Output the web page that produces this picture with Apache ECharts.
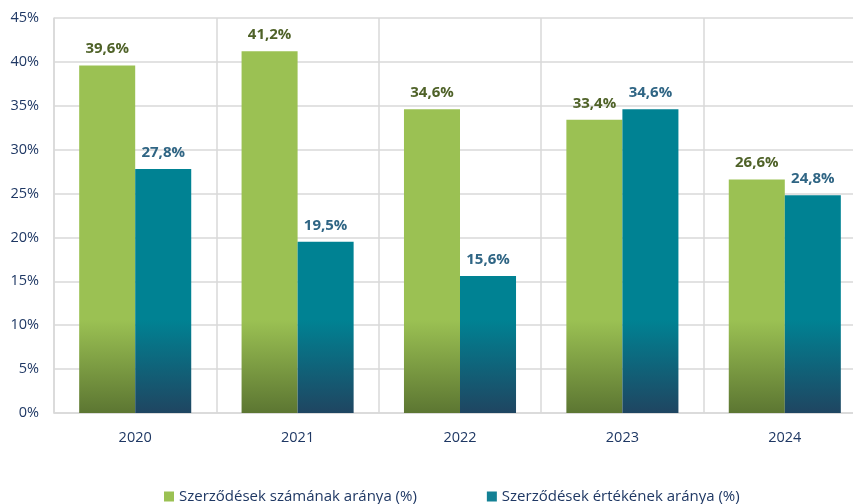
<!DOCTYPE html>
<html><head><meta charset="utf-8">
<script src="https://cdn.jsdelivr.net/npm/echarts@6/dist/echarts.min.js"></script>
<style>html,body{margin:0;padding:0;background:#fff}#c{width:853px;height:504px}</style>
</head><body><div id="c"></div>
<script>
const categories = ['2020', '2021', '2022', '2023', '2024'];
const countShare = [39.6, 41.2, 34.6, 33.4, 26.6];
const valueShare = [27.8, 19.5, 15.6, 34.6, 24.8];
const seriesNames = ['Szerződések számának aránya (%)', 'Szerződések értékének aránya (%)'];

const chart = echarts.init(document.getElementById('c'));
const fmt = v => v.toFixed(1).replace('.', ',') + '%';
const font = '"Open Sans", "Noto Sans", sans-serif';
const grad = (top, bottom) => new echarts.graphic.LinearGradient(0, 320, 0, 413, [
  {offset: 0, color: top}, {offset: 1, color: bottom}], true);

chart.setOption({
  animation: false,
  grid: {left: 54, right: -13, top: 18, bottom: 91, containLabel: false, outerBoundsMode: 'none'},
  legend: {
    bottom: -5, left: 159, itemWidth: 10, itemHeight: 10, itemGap: 70,
    icon: 'rect',
    textStyle: {color: '#1F3864', fontSize: 15, fontFamily: font},
    data: [{name: seriesNames[0], itemStyle: {color: '#9BC153'}}, {name: seriesNames[1], itemStyle: {color: '#138195'}}]
  },
  xAxis: {
    type: 'category', data: categories,
    axisLine: {show: true, lineStyle: {color: '#D9D9D9', width: 1.5}},
    axisTick: {show: false},
    splitLine: {show: true, lineStyle: {color: '#D9D9D9', width: 1.5}},
    axisLabel: {color: '#1F3864', fontSize: 14.5, fontFamily: font, margin: 17}
  },
  yAxis: {
    type: 'value', min: 0, max: 45, interval: 5,
    axisLine: {show: true, lineStyle: {color: '#D9D9D9', width: 1.5}},
    splitLine: {lineStyle: {color: '#D9D9D9', width: 1.5}},
    axisLabel: {color: '#1F3864', fontSize: 14.5, fontFamily: font, margin: 15, formatter: '{value}%'}
  },
  series: [
    {
      name: seriesNames[0], type: 'bar', data: countShare, barGap: '0%', barCategoryGap: '31%',
      itemStyle: {color: grad('#9BC153', '#5C7632')},
      label: {show: true, position: 'top', distance: 9, formatter: p => fmt(p.value),
        color: '#4F6228', fontWeight: 'bold', fontSize: 15, fontFamily: font}
    },
    {
      name: seriesNames[1], type: 'bar', data: valueShare,
      itemStyle: {color: grad('#008293', '#1F4561')},
      label: {show: true, position: 'top', distance: 9, formatter: p => fmt(p.value),
        color: '#2F6584', fontWeight: 'bold', fontSize: 15, fontFamily: font}
    }
  ]
});
</script></body></html>
